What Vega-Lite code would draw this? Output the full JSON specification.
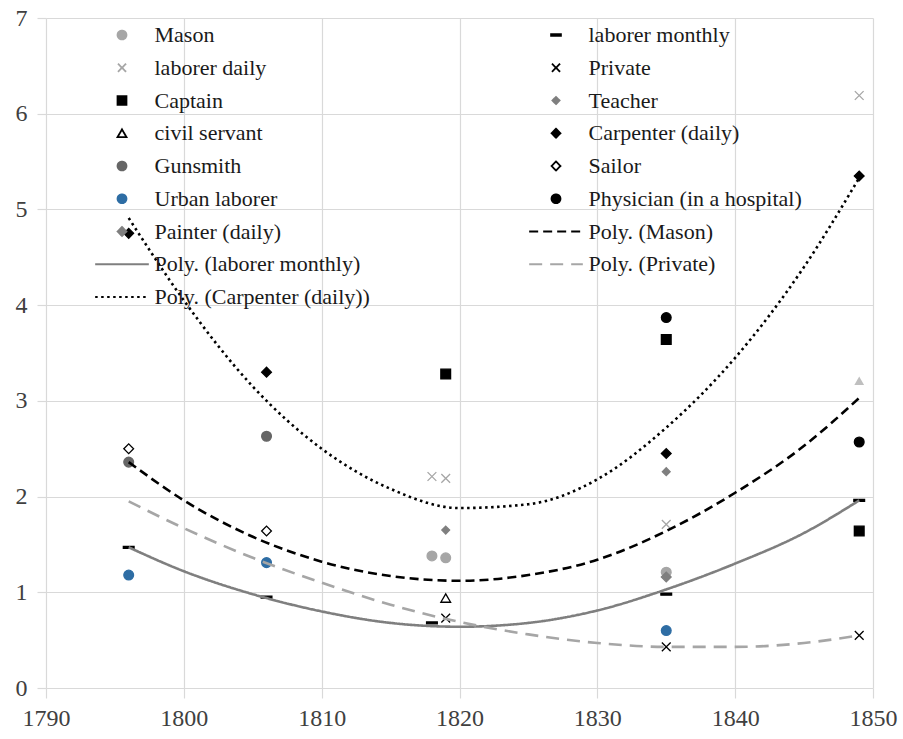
{
  "$schema": "https://vega.github.io/schema/vega-lite/v6.json",
  "width": 827,
  "height": 670,
  "autosize": {"type": "none"},
  "padding": {"left": 46, "top": 18, "right": 30, "bottom": 51},
  "background": "white",
  "config": {
    "view": {"stroke": null},
    "font": "Liberation Serif",
    "style": {"guide-label": {"font": "Liberation Serif", "fontSize": 24, "fill": "#404040"}},
    "axis": {
      "gridColor": "#d9d9d9", "gridWidth": 1.2, "tickColor": "#d9d9d9", "tickWidth": 1.2,
      "domain": false, "labelFont": "Liberation Serif", "labelFontSize": 24,
      "labelColor": "#404040"
    },
    "legend": {"orient": "none", "direction": "horizontal", "legendX": 65, "legendY": 6, "columns": 2, "columnPadding": 155, "rowPadding": 10.75, "symbolSize": 80, "symbolStrokeWidth": 1.8, "labelFontSize": 22, "labelFont": "Liberation Serif", "labelColor": "#1a1a1a", "labelOffset": 21.5, "padding": 0, "labelLimit": 400}
  },
  "datasets": {
    "points": [
      {"series": "Mason", "year": 1818, "value": 1.38},
      {"series": "Mason", "year": 1819, "value": 1.36},
      {"series": "Mason", "year": 1835, "value": 1.21},
      {"series": "laborer monthly", "year": 1796, "value": 1.47},
      {"series": "laborer monthly", "year": 1806, "value": 0.95},
      {"series": "laborer monthly", "year": 1818, "value": 0.68},
      {"series": "laborer monthly", "year": 1835, "value": 0.98},
      {"series": "laborer monthly", "year": 1849, "value": 1.96},
      {"series": "laborer daily", "year": 1818, "value": 2.21},
      {"series": "laborer daily", "year": 1819, "value": 2.19},
      {"series": "laborer daily", "year": 1835, "value": 1.71},
      {"series": "laborer daily", "year": 1849, "value": 6.19},
      {"series": "Private", "year": 1819, "value": 0.73},
      {"series": "Private", "year": 1835, "value": 0.43},
      {"series": "Private", "year": 1849, "value": 0.55},
      {"series": "Captain", "year": 1819, "value": 3.28},
      {"series": "Captain", "year": 1835, "value": 3.64},
      {"series": "Captain", "year": 1849, "value": 1.64},
      {"series": "Teacher", "year": 1819, "value": 1.65},
      {"series": "Teacher", "year": 1835, "value": 2.26},
      {"series": "civil servant", "year": 1819, "value": 0.94},
      {"series": "Carpenter (daily)", "year": 1796, "value": 4.75},
      {"series": "Carpenter (daily)", "year": 1806, "value": 3.30},
      {"series": "Carpenter (daily)", "year": 1835, "value": 2.45},
      {"series": "Carpenter (daily)", "year": 1849, "value": 5.35},
      {"series": "Gunsmith", "year": 1796, "value": 2.36},
      {"series": "Gunsmith", "year": 1806, "value": 2.63},
      {"series": "Sailor", "year": 1796, "value": 2.50},
      {"series": "Sailor", "year": 1806, "value": 1.64},
      {"series": "Urban laborer", "year": 1796, "value": 1.18},
      {"series": "Urban laborer", "year": 1806, "value": 1.31},
      {"series": "Urban laborer", "year": 1835, "value": 0.60},
      {"series": "Physician (in a hospital)", "year": 1835, "value": 3.87},
      {"series": "Physician (in a hospital)", "year": 1849, "value": 2.57},
      {"series": "Painter (daily)", "year": 1835, "value": 1.16}
    ],
    "extra": [
      {"year": 1849, "value": 3.21}
    ],
    "fits": [
      {"series": "Poly. (Mason)", "year": 1796, "value": 2.36},
      {"series": "Poly. (Mason)", "year": 1800, "value": 1.96},
      {"series": "Poly. (Mason)", "year": 1805, "value": 1.58},
      {"series": "Poly. (Mason)", "year": 1810, "value": 1.32},
      {"series": "Poly. (Mason)", "year": 1815, "value": 1.17},
      {"series": "Poly. (Mason)", "year": 1820, "value": 1.12},
      {"series": "Poly. (Mason)", "year": 1825, "value": 1.18},
      {"series": "Poly. (Mason)", "year": 1830, "value": 1.34},
      {"series": "Poly. (Mason)", "year": 1835, "value": 1.64},
      {"series": "Poly. (Mason)", "year": 1840, "value": 2.04},
      {"series": "Poly. (Mason)", "year": 1845, "value": 2.53},
      {"series": "Poly. (Mason)", "year": 1849, "value": 3.03},
      {"series": "Poly. (laborer monthly)", "year": 1796, "value": 1.47},
      {"series": "Poly. (laborer monthly)", "year": 1800, "value": 1.22},
      {"series": "Poly. (laborer monthly)", "year": 1805, "value": 0.98},
      {"series": "Poly. (laborer monthly)", "year": 1810, "value": 0.80},
      {"series": "Poly. (laborer monthly)", "year": 1815, "value": 0.68},
      {"series": "Poly. (laborer monthly)", "year": 1820, "value": 0.64},
      {"series": "Poly. (laborer monthly)", "year": 1825, "value": 0.68},
      {"series": "Poly. (laborer monthly)", "year": 1830, "value": 0.81},
      {"series": "Poly. (laborer monthly)", "year": 1835, "value": 1.03},
      {"series": "Poly. (laborer monthly)", "year": 1840, "value": 1.30},
      {"series": "Poly. (laborer monthly)", "year": 1845, "value": 1.62},
      {"series": "Poly. (laborer monthly)", "year": 1849, "value": 1.96},
      {"series": "Poly. (Private)", "year": 1796, "value": 1.95},
      {"series": "Poly. (Private)", "year": 1800, "value": 1.67},
      {"series": "Poly. (Private)", "year": 1805, "value": 1.36},
      {"series": "Poly. (Private)", "year": 1810, "value": 1.10},
      {"series": "Poly. (Private)", "year": 1815, "value": 0.87},
      {"series": "Poly. (Private)", "year": 1820, "value": 0.69},
      {"series": "Poly. (Private)", "year": 1825, "value": 0.56},
      {"series": "Poly. (Private)", "year": 1830, "value": 0.47},
      {"series": "Poly. (Private)", "year": 1835, "value": 0.43},
      {"series": "Poly. (Private)", "year": 1840, "value": 0.43},
      {"series": "Poly. (Private)", "year": 1845, "value": 0.47},
      {"series": "Poly. (Private)", "year": 1849, "value": 0.55},
      {"series": "Poly. (Carpenter (daily))", "year": 1796, "value": 4.91},
      {"series": "Poly. (Carpenter (daily))", "year": 1800, "value": 4.05},
      {"series": "Poly. (Carpenter (daily))", "year": 1805, "value": 3.15},
      {"series": "Poly. (Carpenter (daily))", "year": 1810, "value": 2.50},
      {"series": "Poly. (Carpenter (daily))", "year": 1815, "value": 2.08},
      {"series": "Poly. (Carpenter (daily))", "year": 1820, "value": 1.88},
      {"series": "Poly. (Carpenter (daily))", "year": 1825, "value": 1.92},
      {"series": "Poly. (Carpenter (daily))", "year": 1830, "value": 2.18},
      {"series": "Poly. (Carpenter (daily))", "year": 1835, "value": 2.72},
      {"series": "Poly. (Carpenter (daily))", "year": 1840, "value": 3.45},
      {"series": "Poly. (Carpenter (daily))", "year": 1845, "value": 4.40},
      {"series": "Poly. (Carpenter (daily))", "year": 1849, "value": 5.33}
    ]
  },
  "encoding": {
    "x": {"field": "year", "type": "quantitative", "title": null,
      "scale": {"domain": [1790, 1850], "nice": false, "zero": false},
      "axis": {"values": [1790, 1800, 1810, 1820, 1830, 1840, 1850], "format": "d", "tickSize": 10, "labelPadding": 8, "labelFlush": false, "labelFont": "Liberation Serif", "labelFontSize": 24, "labelColor": "#404040",
        "encode": {"labels": {"update": {"font": {"value": "Liberation Serif"}, "fontSize": {"value": 24}, "fill": {"value": "#404040"}}}}}},
    "y": {"field": "value", "type": "quantitative", "title": null,
      "scale": {"domain": [0, 7], "nice": false},
      "axis": {"values": [0, 1, 2, 3, 4, 5, 6, 7], "tickSize": 9, "labelPadding": 10, "labelFont": "Liberation Serif", "labelFontSize": 24, "labelColor": "#404040",
        "encode": {"labels": {"update": {"font": {"value": "Liberation Serif"}, "fontSize": {"value": 24}, "fill": {"value": "#404040"}}}}}}
  },
  "layer": [
    {
      "data": {"name": "points"},
      "mark": {"type": "point", "size": 95, "strokeWidth": 1.3, "opacity": 1, "filled": true},
      "encoding": {
        "shape": {"field": "series", "type": "nominal", "title": null,
          "legend": {"labelFont": "Liberation Serif", "labelFontSize": 22, "labelColor": "#1a1a1a"},
          "scale": {
            "domain": ["Mason", "laborer monthly", "laborer daily", "Private", "Captain", "Teacher", "civil servant", "Carpenter (daily)", "Gunsmith", "Sailor", "Urban laborer", "Physician (in a hospital)", "Painter (daily)", "Poly. (Mason)", "Poly. (laborer monthly)", "Poly. (Private)", "Poly. (Carpenter (daily))"],
            "range": ["circle", "M-1.1,-0.2H1.1V0.2H-1.1Z", "M-0.9,-0.9L0.9,0.9M-0.9,0.9L0.9,-0.9", "M-0.9,-0.9L0.9,0.9M-0.9,0.9L0.9,-0.9", "square", "M0,-0.8L0.8,0L0,0.8L-0.8,0Z", "triangle-up", "diamond", "circle", "diamond", "circle", "circle", "diamond", "M-6,0H6", "M-6,0H6", "M-6,0H6", "M-6,0H6"]
          }
        },
        "fill": {"field": "series", "type": "nominal", "title": null,
          "legend": {"labelFont": "Liberation Serif", "labelFontSize": 22, "labelColor": "#1a1a1a"},
          "scale": {
            "domain": ["Mason", "laborer monthly", "laborer daily", "Private", "Captain", "Teacher", "civil servant", "Carpenter (daily)", "Gunsmith", "Sailor", "Urban laborer", "Physician (in a hospital)", "Painter (daily)", "Poly. (Mason)", "Poly. (laborer monthly)", "Poly. (Private)", "Poly. (Carpenter (daily))"],
            "range": ["#a6a6a6", "#000000", "transparent", "transparent", "#000000", "#7f7f7f", "#ffffff", "#000000", "#666666", "#ffffff", "#2e6da4", "#000000", "#7f7f7f", "transparent", "transparent", "transparent", "transparent"]
          }
        },
        "stroke": {"field": "series", "type": "nominal", "title": null,
          "legend": {"labelFont": "Liberation Serif", "labelFontSize": 22, "labelColor": "#1a1a1a"},
          "scale": {
            "domain": ["Mason", "laborer monthly", "laborer daily", "Private", "Captain", "Teacher", "civil servant", "Carpenter (daily)", "Gunsmith", "Sailor", "Urban laborer", "Physician (in a hospital)", "Painter (daily)", "Poly. (Mason)", "Poly. (laborer monthly)", "Poly. (Private)", "Poly. (Carpenter (daily))"],
            "range": ["#a6a6a6", "#000000", "#a6a6a6", "#000000", "#000000", "#7f7f7f", "#000000", "#000000", "#666666", "#000000", "#2e6da4", "#000000", "#7f7f7f", "#000000", "#7f7f7f", "#a6a6a6", "#000000"]
          }
        }
      }
    },
    {
      "data": {"name": "extra"},
      "mark": {"type": "point", "shape": "triangle-up", "size": 95, "filled": true, "opacity": 1, "color": "#bfbfbf"}
    },
    {
      "data": {"name": "fits"},
      "mark": {"type": "line", "strokeWidth": 2.6, "interpolate": "monotone"},
      "encoding": {
        "stroke": {"field": "series", "type": "nominal", "title": null,
          "legend": {"labelFont": "Liberation Serif", "labelFontSize": 22, "labelColor": "#1a1a1a"}},
        "strokeDash": {"field": "series", "type": "nominal", "title": null,
          "legend": {"labelFont": "Liberation Serif", "labelFontSize": 22, "labelColor": "#1a1a1a"},
          "scale": {
            "domain": ["Mason", "laborer monthly", "laborer daily", "Private", "Captain", "Teacher", "civil servant", "Carpenter (daily)", "Gunsmith", "Sailor", "Urban laborer", "Physician (in a hospital)", "Painter (daily)", "Poly. (Mason)", "Poly. (laborer monthly)", "Poly. (Private)", "Poly. (Carpenter (daily))"],
            "range": [[1, 0], [1, 0], [1, 0], [1, 0], [1, 0], [1, 0], [1, 0], [1, 0], [1, 0], [1, 0], [1, 0], [1, 0], [1, 0], [9, 5], [1, 0], [13, 8], [2.5, 3.5]]
          }
        }
      }
    }
  ]
}
